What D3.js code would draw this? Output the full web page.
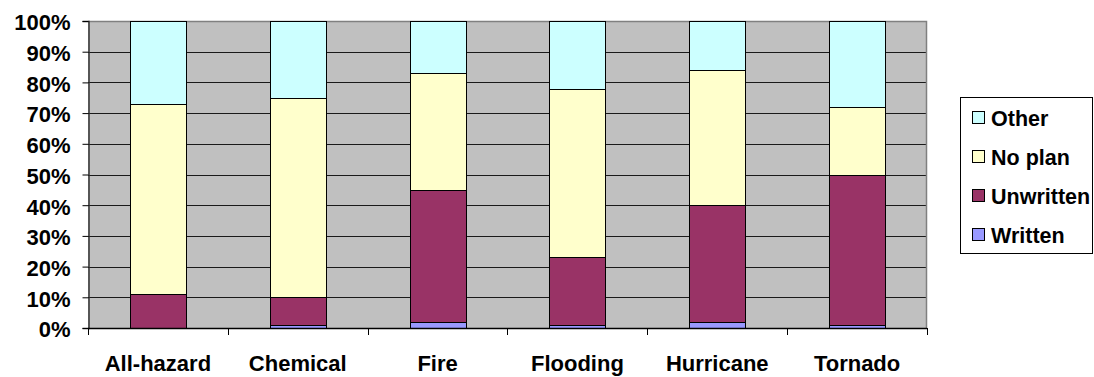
<!DOCTYPE html>
<html>
<head>
<meta charset="utf-8">
<script src="https://cdn.jsdelivr.net/npm/d3@7"></script>
<style>
  html, body { margin: 0; padding: 0; background: #fff; }
  svg { display: block; }
  text { font-family: "Liberation Sans", Arial, sans-serif; font-weight: bold; fill: #000; }
</style>
</head>
<body>
<svg id="chart" width="1094" height="377"></svg>
<script>
// Planning status by hazard type (share of respondents)
const categories = ["All-hazard", "Chemical", "Fire", "Flooding", "Hurricane", "Tornado"];
const written   = [0.00, 0.01, 0.02, 0.01, 0.02, 0.01];
const unwritten = [0.11, 0.09, 0.43, 0.22, 0.38, 0.49];
const noPlan    = [0.62, 0.65, 0.38, 0.55, 0.44, 0.22];
const other     = [0.27, 0.25, 0.17, 0.22, 0.16, 0.28];
const yTicks = [0, 0.1, 0.2, 0.3, 0.4, 0.5, 0.6, 0.7, 0.8, 0.9, 1.0];

const seriesKeys = ["Written", "Unwritten", "No plan", "Other"];
const seriesValues = { "Written": written, "Unwritten": unwritten, "No plan": noPlan, "Other": other };
const colors = { "Written": "#9999FF", "Unwritten": "#993366", "No plan": "#FFFFCC", "Other": "#CCFFFF" };

const rows = categories.map((c, i) => {
  const r = { category: c };
  seriesKeys.forEach(k => { r[k] = seriesValues[k][i]; });
  return r;
});

const svg = d3.select("#chart");
const plot = { left: 88, right: 927, top: 21, bottom: 328 };

const x = d3.scaleBand()
  .domain(categories)
  .range([plot.left, plot.right])
  .paddingInner(0.6)
  .paddingOuter(0.3);

const y = d3.scaleLinear().domain([0, 1]).range([plot.bottom, plot.top]);

// plot background
svg.append("rect")
  .attr("x", plot.left).attr("y", plot.top)
  .attr("width", plot.right - plot.left).attr("height", plot.bottom - plot.top)
  .attr("fill", "#C0C0C0");

// horizontal gridlines
svg.append("g")
  .selectAll("line")
  .data(yTicks.filter(t => t > 0 && t < 1))
  .join("line")
  .attr("x1", plot.left).attr("x2", plot.right)
  .attr("y1", d => Math.round(y(d)) + 0.5).attr("y2", d => Math.round(y(d)) + 0.5)
  .attr("stroke", "#1a1a1a").attr("stroke-width", 1);

// plot border (top and right)
svg.append("path")
  .attr("d", `M${plot.left},${plot.top + 0.5}H${plot.right - 0.5}V${plot.bottom}`)
  .attr("fill", "none").attr("stroke", "#808080").attr("stroke-width", 1.5);

// stacked bars
const stacked = d3.stack().keys(seriesKeys)(rows);
svg.append("g")
  .selectAll("g")
  .data(stacked)
  .join("g")
  .attr("fill", d => colors[d.key])
  .selectAll("rect")
  .data(d => d.filter(s => s[1] - s[0] > 0))
  .join("rect")
  .attr("x", d => Math.round(x(d.data.category)) + 0.5)
  .attr("y", d => Math.round(y(d[1])) + 0.5)
  .attr("width", Math.round(x.bandwidth()))
  .attr("height", d => Math.round(y(d[0])) - Math.round(y(d[1])))
  .attr("stroke", "#000").attr("stroke-width", 1);

// y axis
const yAxis = d3.axisLeft(y)
  .tickValues(yTicks)
  .tickFormat(d3.format(".0%"))
  .tickSize(6)
  .tickPadding(12);
const gy = svg.append("g").attr("transform", `translate(${plot.left + 0.5},0)`).call(yAxis);
gy.select(".domain").attr("stroke", "#333").attr("stroke-width", 1.5);
gy.selectAll(".tick line").attr("stroke", "#000");
gy.selectAll(".tick text")
  .attr("font-size", 22).attr("dy", "0.4em")
  .style("font-family", "'Liberation Sans', Arial, sans-serif").style("font-weight", "bold").attr("fill", "#000");

// x axis line with tick marks on category boundaries
const half = (x.step() - x.bandwidth()) / 2;
const boundaries = categories.map(c => x(c) - half).concat([plot.right]);
svg.append("line")
  .attr("x1", plot.left).attr("x2", plot.right)
  .attr("y1", plot.bottom + 0.5).attr("y2", plot.bottom + 0.5)
  .attr("stroke", "#000").attr("stroke-width", 1.5);
svg.append("g")
  .selectAll("line")
  .data(boundaries)
  .join("line")
  .attr("x1", d => Math.round(d) + 0.5).attr("x2", d => Math.round(d) + 0.5)
  .attr("y1", plot.bottom).attr("y2", plot.bottom + 7)
  .attr("stroke", "#000");

// category labels
svg.append("g")
  .selectAll("text")
  .data(categories)
  .join("text")
  .attr("x", d => x(d) + x.bandwidth() / 2)
  .attr("y", 371)
  .attr("text-anchor", "middle")
  .attr("font-size", 22)
  .text(d => d);

// legend (top series first)
const legendKeys = seriesKeys.slice().reverse();
const legend = svg.append("g");
legend.append("rect")
  .attr("x", 960.5).attr("y", 97.5)
  .attr("width", 132).attr("height", 156)
  .attr("fill", "#fff").attr("stroke", "#000").attr("stroke-width", 1);
const items = legend.selectAll("g")
  .data(legendKeys)
  .join("g")
  .attr("transform", (d, i) => `translate(0,${118 + i * 39})`);
items.append("rect")
  .attr("x", 972.5).attr("y", -6.5)
  .attr("width", 12).attr("height", 12)
  .attr("fill", d => colors[d]).attr("stroke", "#000");
items.append("text")
  .attr("x", 991).attr("y", 0).attr("dy", "0.36em")
  .attr("font-size", 21.5)
  .text(d => d);
</script>
</body>
</html>
